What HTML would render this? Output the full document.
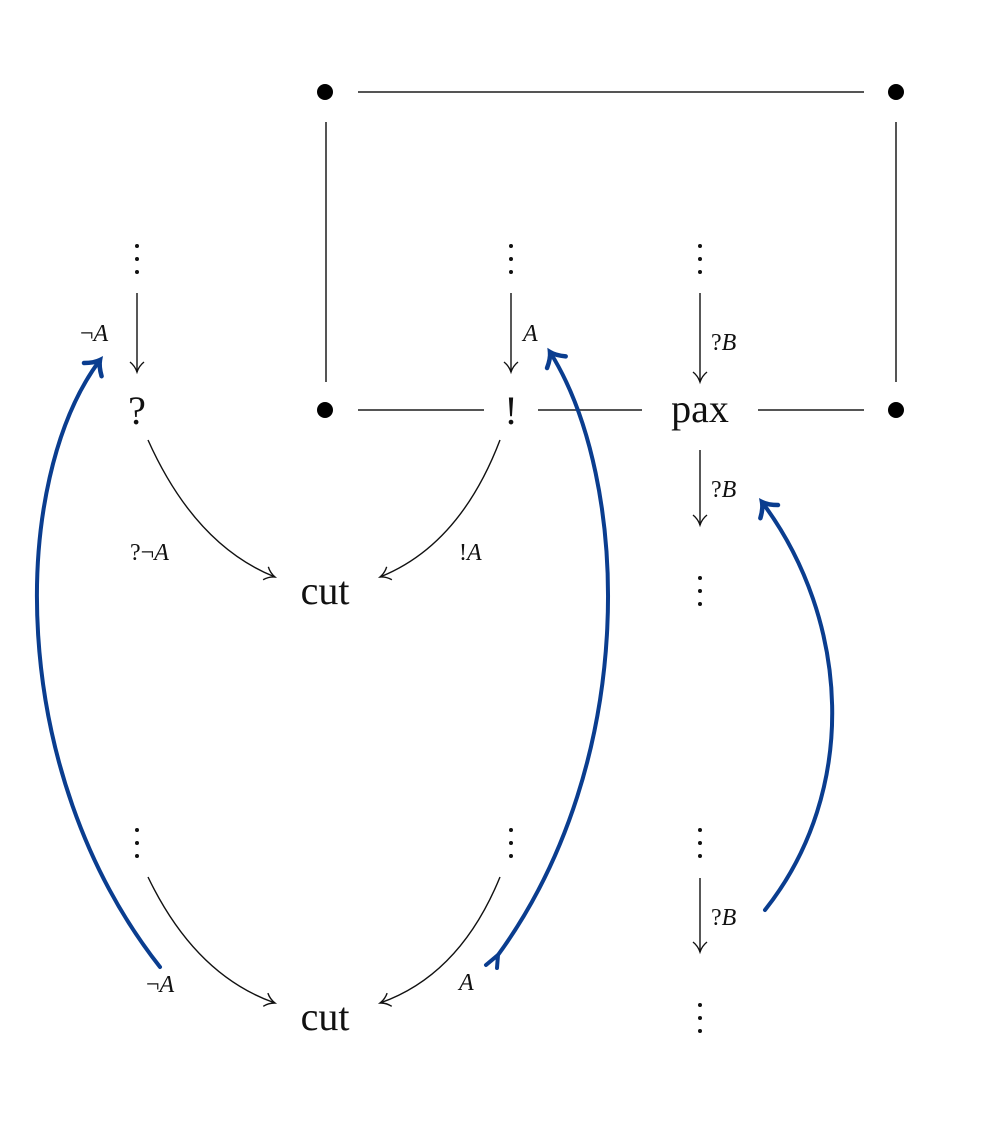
<!DOCTYPE html>
<html><head><meta charset="utf-8"><style>
html,body{margin:0;padding:0;background:#fff;}
svg{display:block;}
text{font-family:"Liberation Serif",serif;fill:#111;}
.lbl{font-style:italic;font-size:24px;}
.big{font-size:40px;}
</style></head><body>
<svg width="1000" height="1127" viewBox="0 0 1000 1127">
<defs>
<marker id="ah" markerWidth="16" markerHeight="16" refX="12" refY="8" orient="auto" markerUnits="userSpaceOnUse">
<path d="M2,1 Q6,6 12,8 Q6,10 2,15" fill="none" stroke="#111" stroke-width="1.4"/>
</marker>
<marker id="bh" markerWidth="30" markerHeight="30" refX="18" refY="15" orient="auto" markerUnits="userSpaceOnUse">
<path d="M6,4 Q12,12 18,15 Q12,18 6,26" fill="none" stroke="#0a3d8f" stroke-width="4.5" stroke-linecap="round"/>
</marker>
</defs>
<g stroke="#555" stroke-width="2">
<line x1="358" y1="92" x2="864" y2="92"/>
<line x1="326" y1="122" x2="326" y2="382"/>
<line x1="896" y1="122" x2="896" y2="382"/>
<line x1="358" y1="410" x2="484" y2="410"/>
<line x1="538" y1="410" x2="642" y2="410"/>
<line x1="758" y1="410" x2="864" y2="410"/>
</g>
<g fill="#000">
<circle cx="325" cy="92" r="8"/><circle cx="896" cy="92" r="8"/>
<circle cx="325" cy="410" r="8"/><circle cx="896" cy="410" r="8"/>
</g>
<g fill="#111">
<circle cx="137" cy="246" r="2"/><circle cx="137" cy="259" r="2"/><circle cx="137" cy="272" r="2"/>
<circle cx="511" cy="246" r="2"/><circle cx="511" cy="259" r="2"/><circle cx="511" cy="272" r="2"/>
<circle cx="700" cy="246" r="2"/><circle cx="700" cy="259" r="2"/><circle cx="700" cy="272" r="2"/>
<circle cx="700" cy="578" r="2"/><circle cx="700" cy="591" r="2"/><circle cx="700" cy="604" r="2"/>
<circle cx="137" cy="830" r="2"/><circle cx="137" cy="843" r="2"/><circle cx="137" cy="856" r="2"/>
<circle cx="511" cy="830" r="2"/><circle cx="511" cy="843" r="2"/><circle cx="511" cy="856" r="2"/>
<circle cx="700" cy="830" r="2"/><circle cx="700" cy="843" r="2"/><circle cx="700" cy="856" r="2"/>
<circle cx="700" cy="1005" r="2"/><circle cx="700" cy="1018" r="2"/><circle cx="700" cy="1031" r="2"/>
</g>
<g stroke="#111" stroke-width="1.4" fill="none">
<line x1="137" y1="293" x2="137" y2="372" marker-end="url(#ah)"/>
<line x1="511" y1="293" x2="511" y2="372" marker-end="url(#ah)"/>
<line x1="700" y1="293" x2="700" y2="382" marker-end="url(#ah)"/>
<line x1="700" y1="450" x2="700" y2="525" marker-end="url(#ah)"/>
<line x1="700" y1="878" x2="700" y2="952" marker-end="url(#ah)"/>
<path d="M148,440 Q195,545 275,577" marker-end="url(#ah)"/>
<path d="M500,440 Q460,545 380,577" marker-end="url(#ah)"/>
<path d="M148,877 Q195,975 275,1003" marker-end="url(#ah)"/>
<path d="M500,877 Q460,975 380,1003" marker-end="url(#ah)"/>
</g>
<g>
<text class="big" x="137" y="424" text-anchor="middle">?</text>
<text class="big" x="511" y="424" text-anchor="middle">!</text>
<text class="big" x="700" y="422" text-anchor="middle">pax</text>
<text class="big" x="325" y="604" text-anchor="middle">cut</text>
<text class="big" x="325" y="1030" text-anchor="middle">cut</text>
</g>
<g>
<text class="lbl" x="80" y="341"><tspan font-style="normal">¬</tspan>A</text>
<text class="lbl" x="523" y="341">A</text>
<text class="lbl" x="711" y="350"><tspan font-style="normal">?</tspan>B</text>
<text class="lbl" x="711" y="497"><tspan font-style="normal">?</tspan>B</text>
<text class="lbl" x="711" y="925"><tspan font-style="normal">?</tspan>B</text>
<text class="lbl" x="130" y="560"><tspan font-style="normal">?¬</tspan>A</text>
<text class="lbl" x="459" y="560"><tspan font-style="normal">!</tspan>A</text>
<text class="lbl" x="146" y="992"><tspan font-style="normal">¬</tspan>A</text>
<text class="lbl" x="459" y="990">A</text>
</g>
<g stroke="#0a3d8f" stroke-width="4" fill="none" stroke-linecap="round">
<path d="M160,967 C5,770 10,480 100,360" marker-end="url(#bh)"/>
<path d="M498,955 C640,760 630,480 550,352" marker-end="url(#bh)"/>
<path d="M486,965 L498,955 L497,968"/>
<path d="M765,910 C860,790 850,620 762,502" marker-end="url(#bh)"/>
</g>
</svg>
</body></html>
